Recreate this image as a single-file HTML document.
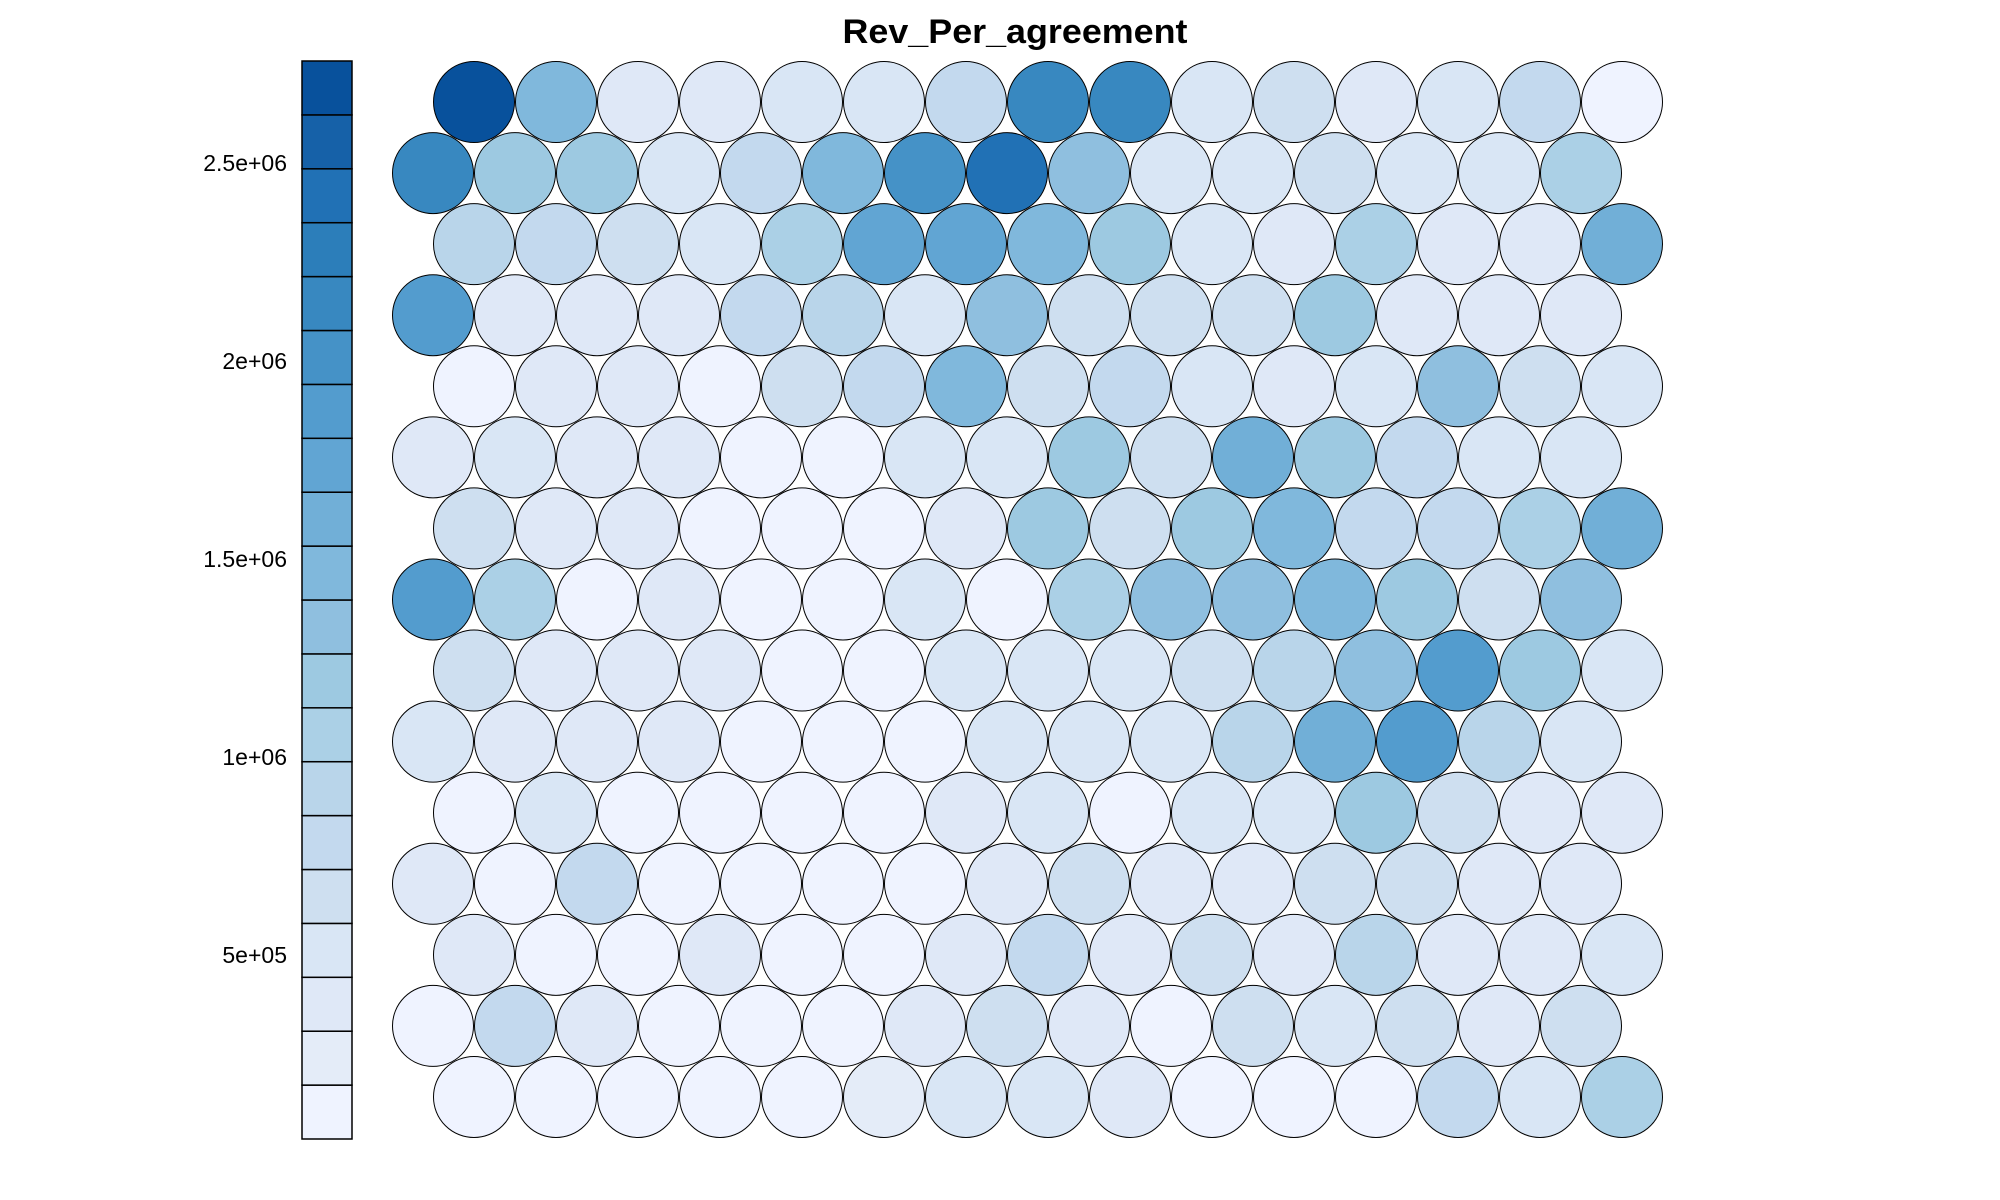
<!DOCTYPE html>
<html><head><meta charset="utf-8"><style>
html,body{margin:0;padding:0;background:#fff;}
svg{display:block;font-family:"Liberation Sans",Arial,sans-serif;}
</style></head><body>
<svg id="chart" width="2000" height="1200" viewBox="0 0 2000 1200" xmlns="http://www.w3.org/2000/svg">
<text x="1015" y="43" text-anchor="middle" font-size="34" font-weight="bold" textLength="345" lengthAdjust="spacingAndGlyphs">Rev_Per_agreement</text>
<g id="legend"></g>
<g id="cells"></g>
</svg>
<script>
// values in thousands, one array per row (top to bottom)
const row0 = [2689,1464,375,375,511,511,784,2145,2145,511,648,375,511,784,103];
const row1 = [2145,1192,1192,511,784,1464,2009,2417,1328,511,511,648,511,511,1056];
const row2 = [920,784,648,511,1056,1736,1736,1464,1192,511,375,1056,375,375,1600];
const row3 = [1873,375,375,375,784,920,511,1328,648,648,648,1192,375,375,375];
const row4 = [103,375,375,103,648,784,1464,648,784,511,375,511,1328,648,511];
const row5 = [375,511,375,375,103,103,511,511,1192,648,1600,1192,784,511,511];
const row6 = [648,375,375,103,103,103,375,1192,648,1192,1464,784,784,1056,1600];
const row7 = [1873,1056,103,375,103,103,511,103,1056,1328,1328,1464,1192,648,1328];
const row8 = [648,375,375,375,103,103,511,511,511,648,920,1328,1873,1192,511];
const row9 = [511,375,375,375,103,103,103,511,511,511,920,1600,1873,920,511];
const row10 = [103,511,103,103,103,103,375,511,103,511,511,1192,648,375,375];
const row11 = [375,103,784,103,103,103,103,375,648,375,375,648,648,375,375];
const row12 = [375,103,103,375,103,103,375,784,375,648,375,920,375,375,511];
const row13 = [103,784,375,103,103,103,375,648,375,103,648,511,648,375,648];
const row14 = [103,103,103,103,103,239,511,511,375,103,103,103,784,511,1056];
const rows = [row0,row1,row2,row3,row4,row5,row6,row7,row8,row9,row10,row11,row12,row13,row14];
const tickValues = [500,1000,1500,2000,2500];
const tickLabels = ["5e+05","1e+06","1.5e+06","2e+06","2.5e+06"];
const vMin = 35, vMax = 2757;
const palette = ["#eff3ff","#e4ecf8","#dfe8f7","#d9e6f5","#cedff0","#c3d9ee","#b9d5ea","#abd0e6","#9dc9e1","#8fbfdf","#80b8dc","#71afd7","#61a5d3","#539cce","#4592c7","#3888c0","#2c7eba","#2171b5","#1661a8","#08519c"];

const NS="http://www.w3.org/2000/svg";
const nBins = palette.length;
const barX=302, barW=50, barTop=61, barBot=1139;
function yScale(v){return barBot-(v-vMin)/(vMax-vMin)*(barBot-barTop);}
function colorOf(v){let i=Math.floor((v-vMin)/(vMax-vMin)*nBins);i=Math.max(0,Math.min(nBins-1,i));return palette[i];}

const legend=document.getElementById('legend');
for(let i=0;i<nBins;i++){
  const v0=vMin+(vMax-vMin)*i/nBins, v1=vMin+(vMax-vMin)*(i+1)/nBins;
  const r=document.createElementNS(NS,'rect');
  r.setAttribute('x',barX);r.setAttribute('y',yScale(v1));
  r.setAttribute('width',barW);r.setAttribute('height',yScale(v0)-yScale(v1));
  r.setAttribute('fill',palette[i]);r.setAttribute('stroke','#000');r.setAttribute('stroke-width','1.5');
  
  
  legend.appendChild(r);
}
tickValues.forEach((v,i)=>{
  const t=document.createElementNS(NS,'text');
  t.setAttribute('x',287);t.setAttribute('y',yScale(v)+8);
  t.setAttribute('text-anchor','end');t.setAttribute('font-size','23');
  t.textContent=tickLabels[i];
  
  
  legend.appendChild(t);
});

const cells=document.getElementById('cells');
const x0=433, dx=82, y0=102, dy=71.07, rad=40.5;
rows.forEach((row,ri)=>{
  const off = ri%2===0 ? dx/2 : 0;
  row.forEach((v,ci)=>{
    const c=document.createElementNS(NS,'circle');
    c.setAttribute('cx',x0+off+ci*dx);c.setAttribute('cy',y0+ri*dy);c.setAttribute('r',rad);
    c.setAttribute('fill',colorOf(v));c.setAttribute('stroke','#000');c.setAttribute('stroke-width','1');
    
    
    cells.appendChild(c);
  });
});
</script>
</body></html>
